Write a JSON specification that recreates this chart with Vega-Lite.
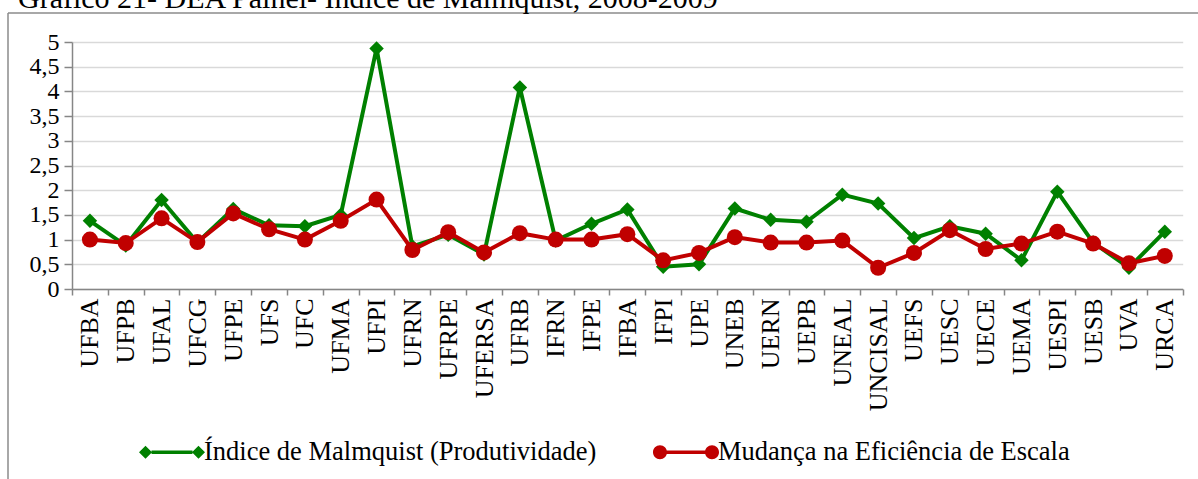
{
  "$schema": "https://vega.github.io/schema/vega-lite/v6.json",
  "width": 1190,
  "height": 466,
  "autosize": {"type": "none"},
  "padding": {"left": 8, "top": 13, "right": 0, "bottom": 0},
  "background": "white",
  "title": {
    "text": "Gráfico 21- DEA Painel- Índice de Malmquist, 2008-2009",
    "anchor": "start", "frame": "group", "orient": "top",
    "baseline": "alphabetic", "offset": -25, "dx": 10,
    "font": "Liberation Serif", "fontSize": 30, "fontWeight": "normal", "color": "black"
  },
  "config": {
    "view": {"stroke": "#8c8c8c", "strokeWidth": 1.5, "strokeDash": [1190, 1656, 466, 0]},
    "font": "Liberation Serif",
    "axis": {"labelFont": "Liberation Serif"},
    "legend": {"labelFont": "Liberation Serif"}
  },
  "data": {"values": [
    {"inst": "UFBA", "serie": "Índice de Malmquist (Produtividade)", "valor": 1.38},
    {"inst": "UFPB", "serie": "Índice de Malmquist (Produtividade)", "valor": 0.88},
    {"inst": "UFAL", "serie": "Índice de Malmquist (Produtividade)", "valor": 1.80},
    {"inst": "UFCG", "serie": "Índice de Malmquist (Produtividade)", "valor": 0.94},
    {"inst": "UFPE", "serie": "Índice de Malmquist (Produtividade)", "valor": 1.62},
    {"inst": "UFS", "serie": "Índice de Malmquist (Produtividade)", "valor": 1.29},
    {"inst": "UFC", "serie": "Índice de Malmquist (Produtividade)", "valor": 1.27},
    {"inst": "UFMA", "serie": "Índice de Malmquist (Produtividade)", "valor": 1.50},
    {"inst": "UFPI", "serie": "Índice de Malmquist (Produtividade)", "valor": 4.87},
    {"inst": "UFRN", "serie": "Índice de Malmquist (Produtividade)", "valor": 0.86},
    {"inst": "UFRPE", "serie": "Índice de Malmquist (Produtividade)", "valor": 1.10},
    {"inst": "UFERSA", "serie": "Índice de Malmquist (Produtividade)", "valor": 0.70},
    {"inst": "UFRB", "serie": "Índice de Malmquist (Produtividade)", "valor": 4.08},
    {"inst": "IFRN", "serie": "Índice de Malmquist (Produtividade)", "valor": 0.98},
    {"inst": "IFPE", "serie": "Índice de Malmquist (Produtividade)", "valor": 1.32},
    {"inst": "IFBA", "serie": "Índice de Malmquist (Produtividade)", "valor": 1.61},
    {"inst": "IFPI", "serie": "Índice de Malmquist (Produtividade)", "valor": 0.45},
    {"inst": "UPE", "serie": "Índice de Malmquist (Produtividade)", "valor": 0.50},
    {"inst": "UNEB", "serie": "Índice de Malmquist (Produtividade)", "valor": 1.63},
    {"inst": "UERN", "serie": "Índice de Malmquist (Produtividade)", "valor": 1.40},
    {"inst": "UEPB", "serie": "Índice de Malmquist (Produtividade)", "valor": 1.36},
    {"inst": "UNEAL", "serie": "Índice de Malmquist (Produtividade)", "valor": 1.91},
    {"inst": "UNCISAL", "serie": "Índice de Malmquist (Produtividade)", "valor": 1.73},
    {"inst": "UEFS", "serie": "Índice de Malmquist (Produtividade)", "valor": 1.03},
    {"inst": "UESC", "serie": "Índice de Malmquist (Produtividade)", "valor": 1.27},
    {"inst": "UECE", "serie": "Índice de Malmquist (Produtividade)", "valor": 1.12},
    {"inst": "UEMA", "serie": "Índice de Malmquist (Produtividade)", "valor": 0.58},
    {"inst": "UESPI", "serie": "Índice de Malmquist (Produtividade)", "valor": 1.97},
    {"inst": "UESB", "serie": "Índice de Malmquist (Produtividade)", "valor": 0.94},
    {"inst": "UVA", "serie": "Índice de Malmquist (Produtividade)", "valor": 0.43},
    {"inst": "URCA", "serie": "Índice de Malmquist (Produtividade)", "valor": 1.16},
    {"inst": "UFBA", "serie": "Mudança na Eficiência de Escala", "valor": 1.00},
    {"inst": "UFPB", "serie": "Mudança na Eficiência de Escala", "valor": 0.93},
    {"inst": "UFAL", "serie": "Mudança na Eficiência de Escala", "valor": 1.43},
    {"inst": "UFCG", "serie": "Mudança na Eficiência de Escala", "valor": 0.95},
    {"inst": "UFPE", "serie": "Mudança na Eficiência de Escala", "valor": 1.53},
    {"inst": "UFS", "serie": "Mudança na Eficiência de Escala", "valor": 1.21},
    {"inst": "UFC", "serie": "Mudança na Eficiência de Escala", "valor": 1.00},
    {"inst": "UFMA", "serie": "Mudança na Eficiência de Escala", "valor": 1.38},
    {"inst": "UFPI", "serie": "Mudança na Eficiência de Escala", "valor": 1.81},
    {"inst": "UFRN", "serie": "Mudança na Eficiência de Escala", "valor": 0.79},
    {"inst": "UFRPE", "serie": "Mudança na Eficiência de Escala", "valor": 1.15},
    {"inst": "UFERSA", "serie": "Mudança na Eficiência de Escala", "valor": 0.74},
    {"inst": "UFRB", "serie": "Mudança na Eficiência de Escala", "valor": 1.13},
    {"inst": "IFRN", "serie": "Mudança na Eficiência de Escala", "valor": 1.00},
    {"inst": "IFPE", "serie": "Mudança na Eficiência de Escala", "valor": 1.00},
    {"inst": "IFBA", "serie": "Mudança na Eficiência de Escala", "valor": 1.11},
    {"inst": "IFPI", "serie": "Mudança na Eficiência de Escala", "valor": 0.58},
    {"inst": "UPE", "serie": "Mudança na Eficiência de Escala", "valor": 0.73},
    {"inst": "UNEB", "serie": "Mudança na Eficiência de Escala", "valor": 1.05},
    {"inst": "UERN", "serie": "Mudança na Eficiência de Escala", "valor": 0.94},
    {"inst": "UEPB", "serie": "Mudança na Eficiência de Escala", "valor": 0.94},
    {"inst": "UNEAL", "serie": "Mudança na Eficiência de Escala", "valor": 0.98},
    {"inst": "UNCISAL", "serie": "Mudança na Eficiência de Escala", "valor": 0.43},
    {"inst": "UEFS", "serie": "Mudança na Eficiência de Escala", "valor": 0.73},
    {"inst": "UESC", "serie": "Mudança na Eficiência de Escala", "valor": 1.19},
    {"inst": "UECE", "serie": "Mudança na Eficiência de Escala", "valor": 0.81},
    {"inst": "UEMA", "serie": "Mudança na Eficiência de Escala", "valor": 0.92},
    {"inst": "UESPI", "serie": "Mudança na Eficiência de Escala", "valor": 1.16},
    {"inst": "UESB", "serie": "Mudança na Eficiência de Escala", "valor": 0.92},
    {"inst": "UVA", "serie": "Mudança na Eficiência de Escala", "valor": 0.52},
    {"inst": "URCA", "serie": "Mudança na Eficiência de Escala", "valor": 0.67}
  ]},
  "encoding": {
    "x": {
      "field": "inst", "type": "nominal", "sort": null,
      "scale": {"type": "band", "range": [64, 1174.7], "paddingInner": 0, "paddingOuter": 0},
      "axis": {
        "orient": "bottom", "offset": -190, "title": null, "grid": false,
        "tickBand": "extent", "domainColor": "#868686", "domainWidth": 1.5,
        "tickColor": "#868686", "tickWidth": 1.5, "tickSize": 6,
        "labelAngle": -90, "labelAlign": "right", "labelBaseline": "middle", "labelPadding": 3,
        "labelFont": "Liberation Serif", "labelFontSize": 26, "labelColor": "black",
        "labelLimit": 500, "labelOverlap": false, "labelBound": false
      }
    },
    "y": {
      "field": "valor", "type": "quantitative",
      "scale": {"domain": [0, 5], "range": [276, 29], "nice": false, "zero": false},
      "axis": {
        "values": [0, 0.5, 1, 1.5, 2, 2.5, 3, 3.5, 4, 4.5, 5],
        "offset": -64, "title": null, "grid": true, "gridColor": "#d9d9d9", "gridWidth": 1.5,
        "domainColor": "#868686", "domainWidth": 1.5, "tickColor": "#868686", "tickWidth": 1.5, "tickSize": 8,
        "labelPadding": 5, "labelFont": "Liberation Serif", "labelFontSize": 24, "labelColor": "black",
        "labelExpr": "replace(format(datum.value, '.1~f'), '.', ',')", "labelFlush": false, "labelBound": false,
        "labelOverlap": false
      }
    }
  },
  "layer": [
    {
      "transform": [{"filter": {"field": "serie", "equal": "Índice de Malmquist (Produtividade)"}}],
      "mark": {"type": "line", "color": "#008000", "strokeWidth": 4}
    },
    {
      "transform": [{"filter": {"field": "serie", "equal": "Índice de Malmquist (Produtividade)"}}],
      "mark": {"type": "point", "shape": "diamond", "filled": true, "color": "#008000", "size": 210, "opacity": 1}
    },
    {
      "transform": [{"filter": {"field": "serie", "equal": "Mudança na Eficiência de Escala"}}],
      "mark": {"type": "line", "color": "#c00000", "strokeWidth": 4}
    },
    {
      "transform": [{"filter": {"field": "serie", "equal": "Mudança na Eficiência de Escala"}}],
      "mark": {"type": "point", "shape": "circle", "filled": true, "color": "#c00000", "size": 256, "opacity": 1}
    },
    {
      "mark": {"type": "point", "filled": true, "opacity": 0},
      "encoding": {
        "color": {
          "field": "serie", "type": "nominal",
          "scale": {"domain": ["Índice de Malmquist (Produtividade)", "Mudança na Eficiência de Escala"], "range": ["#008000", "#c00000"]},
          "legend": {
            "orient": "none", "legendX": 131, "legendY": 406, "direction": "horizontal", "title": null,
            "symbolSize": 4356, "symbolStrokeWidth": 0, "symbolOpacity": 1,
            "labelFont": "Liberation Serif", "labelFontSize": 26.5, "labelColor": "black",
            "labelLimit": 1000, "labelOffset": -1, "columnPadding": 56, "padding": 0
          }
        },
        "shape": {
          "field": "serie", "type": "nominal",
          "scale": {"domain": ["Índice de Malmquist (Produtividade)", "Mudança na Eficiência de Escala"],
            "range": [
              "M-1,0L-0.803,-0.197L-0.606,0L-0.803,0.197ZM0.606,0L0.803,-0.197L1,0L0.803,0.197ZM-0.62,-0.05H0.62V0.05H-0.62Z",
              "M-1,0A0.212,0.212,0,1,1,-0.576,0A0.212,0.212,0,1,1,-1,0ZM0.576,0A0.212,0.212,0,1,1,1,0A0.212,0.212,0,1,1,0.576,0ZM-0.59,-0.05H0.59V0.05H-0.59Z"
            ]},
          "legend": {
            "orient": "none", "legendX": 131, "legendY": 406, "direction": "horizontal", "title": null,
            "symbolSize": 4356, "symbolStrokeWidth": 0, "symbolOpacity": 1,
            "labelFont": "Liberation Serif", "labelFontSize": 26.5, "labelColor": "black",
            "labelLimit": 1000, "labelOffset": -1, "columnPadding": 56, "padding": 0
          }
        }
      }
    }
  ]
}
